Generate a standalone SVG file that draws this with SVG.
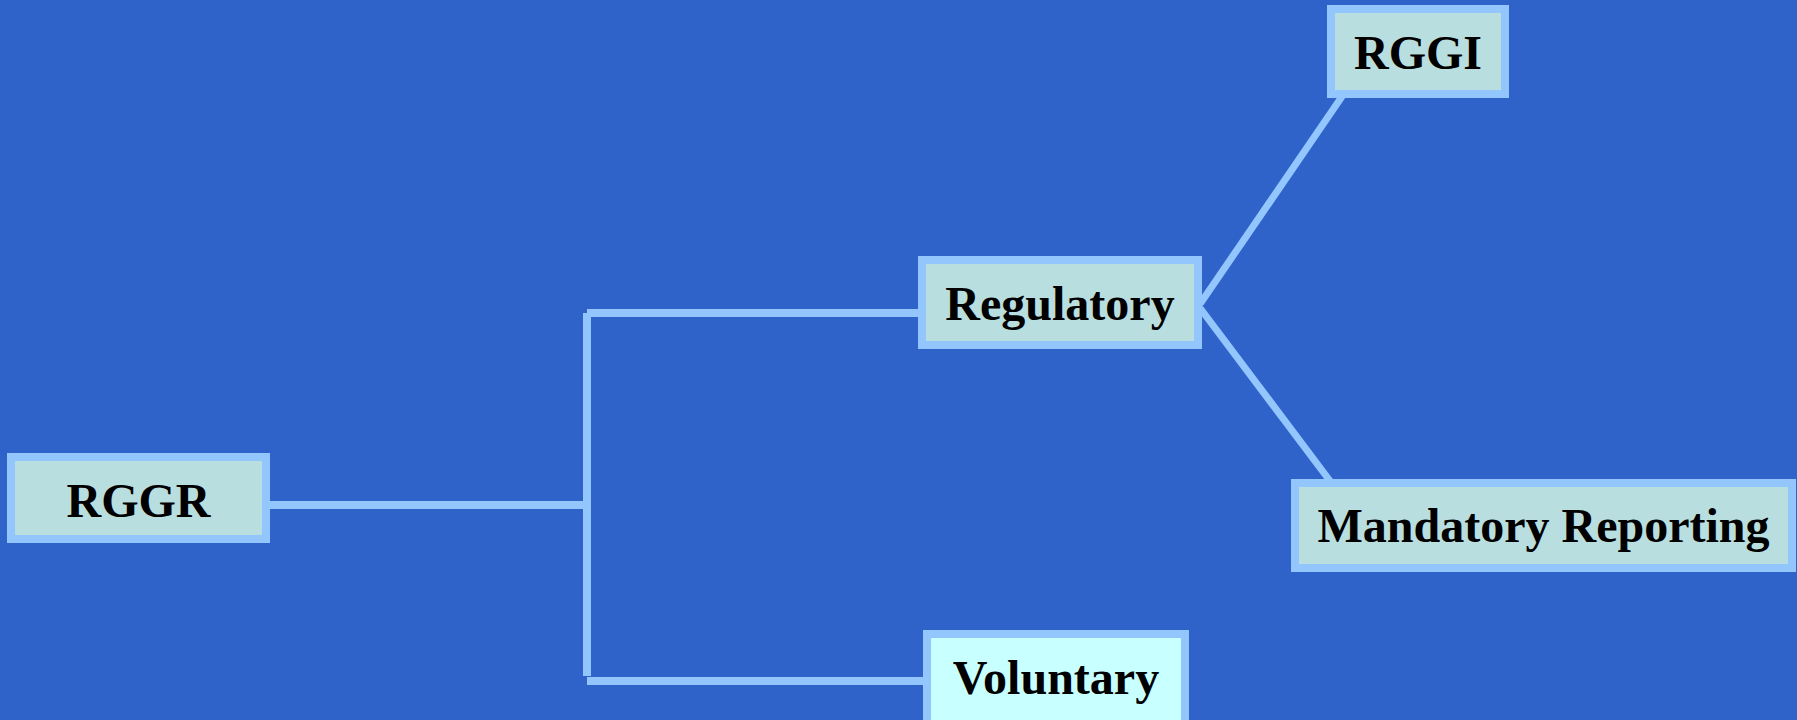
<svg xmlns="http://www.w3.org/2000/svg" width="1797" height="720" viewBox="0 0 1797 720">
<style>
.bg{fill:#2F63C9}
.box{fill:#B9DEDF;stroke:#93C6FD;stroke-width:8}
.box2{fill:#C8FFFF;stroke:#93C6FD;stroke-width:8}
.lbl{font-family:"Liberation Serif","Times New Roman",serif;font-weight:bold;font-size:48px;fill:#000;text-anchor:middle}
.c{stroke:#93C6FD;stroke-width:8;fill:none}
.d{stroke:#93C6FD;stroke-width:7;fill:none}
</style>
<rect class="bg" x="0" y="0" width="1797" height="720"/>
<g id="connectors">
<line class="c" x1="270" y1="505" x2="587" y2="505"/>
<line class="c" x1="587" y1="313" x2="587" y2="676"/>
<line class="c" x1="587" y1="313" x2="920" y2="313"/>
<line class="c" x1="587" y1="681" x2="925" y2="681"/>
<line class="d" x1="1200" y1="304" x2="1343" y2="95"/>
<line class="d" x1="1200" y1="308" x2="1330" y2="481"/>
</g>
<g id="RGGR">
<rect class="box" x="11" y="457" width="255" height="82"/>
<text class="lbl" x="138.5" y="517">RGGR</text>
</g>
<g id="Regulatory">
<rect class="box" x="922" y="260" width="276" height="85"/>
<text class="lbl" x="1060" y="320">Regulatory</text>
</g>
<g id="Voluntary">
<rect class="box2" x="927" y="634" width="258" height="90"/>
<text class="lbl" x="1056" y="694">Voluntary</text>
</g>
<g id="RGGI">
<rect class="box" x="1331" y="9" width="174" height="85"/>
<text class="lbl" x="1418" y="69">RGGI</text>
</g>
<g id="MandatoryReporting">
<rect class="box" x="1295" y="483" width="497" height="85"/>
<text class="lbl" x="1543.5" y="542">Mandatory Reporting</text>
</g>
</svg>
